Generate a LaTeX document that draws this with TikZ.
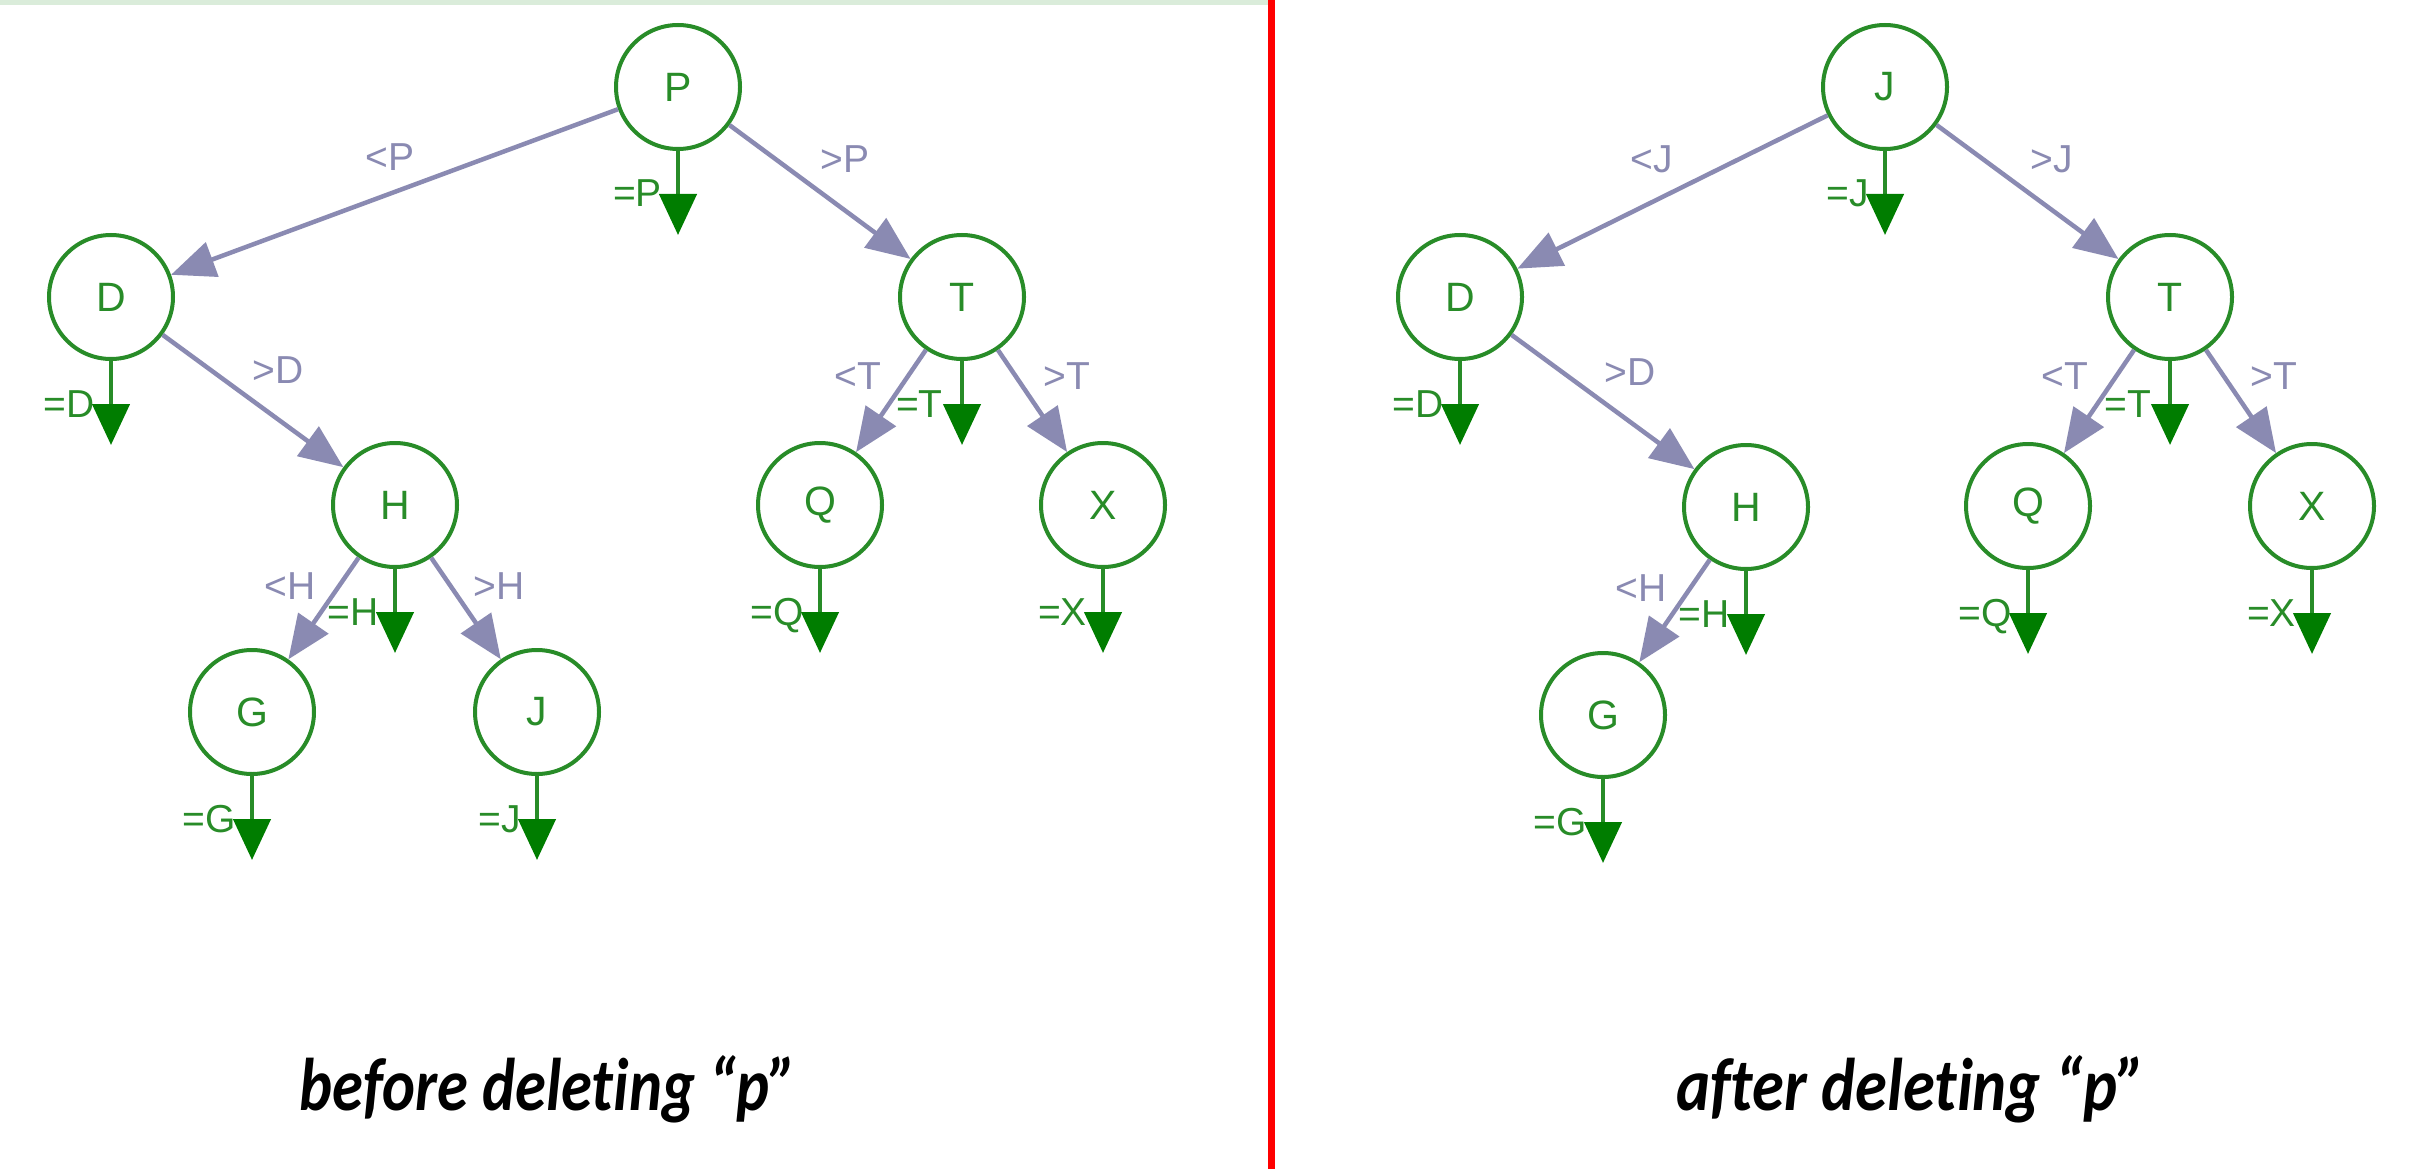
\documentclass[tikz,border=0pt]{standalone}
\usepackage{fontspec}
\setmainfont{Liberation Sans}
\newfontfamily\capfont[Ligatures=NoCommon]{Carlito}
\usetikzlibrary{arrows.meta}
\definecolor{ngreen}{RGB}{40,140,40}
\definecolor{egreen}{RGB}{0,125,0}
\definecolor{lav}{RGB}{138,138,178}
\definecolor{topgreen}{RGB}{218,236,218}
\definecolor{sepred}{RGB}{255,0,0}
\begin{document}
\begin{tikzpicture}[x=1pt,y=-1pt,
  tnode/.style={circle,draw=ngreen,line width=4pt,minimum size=124pt,inner sep=0pt,
    text=ngreen,font=\fontsize{41}{48}\selectfont},
  pedge/.style={draw=lav,line width=4.5pt,-{Triangle[length=44pt,width=36pt,color=lav]}},
  eqarrow/.style={draw=ngreen,line width=4.5pt,-{Triangle[length=41pt,width=37pt,color=egreen]}},
  plabel/.style={text=lav,inner sep=0pt,font=\fontsize{39}{47}\selectfont},
  elabel/.style={text=ngreen,inner sep=0pt,anchor=base east,font=\fontsize{39}{47}\selectfont},
  caption/.style={inner sep=0pt,anchor=base,text=black,font=\capfont\bfseries\itshape\fontsize{60}{70}\selectfont}]
\useasboundingbox (0,0) rectangle (2417,1169);
\fill[white] (0,0) rectangle (2417,1169);
\fill[topgreen] (0,0) rectangle (1268,5);
\fill[sepred] (1268,0) rectangle (1275,1169);

% ---------------- left tree (before) ----------------
\node[tnode] (lP) at (678,87) {P};
\node[tnode] (lD) at (111,297) {D};
\node[tnode] (lT) at (962,297) {T};
\node[tnode] (lH) at (395,505) {H};
\node[tnode] (lQ) at (820,505) {Q};
\node[tnode] (lX) at (1103,505) {X};
\node[tnode] (lG) at (252,712) {G};
\node[tnode] (lJ) at (537,712) {J};

\draw[pedge] (lP) -- (lD);
\draw[pedge] (lP) -- (lT);
\draw[pedge] (lD) -- (lH);
\draw[pedge] (lH) -- (lG);
\draw[pedge] (lH) -- (lJ);
\draw[pedge] (lT) -- (lQ);
\draw[pedge] (lT) -- (lX);

\node[plabel] (lPl) at (390,157) {<P};
\node[plabel] (lPr) at (845,159) {>P};
\node[plabel] (lDr) at (278,370) {>D};
\node[plabel] (lHl) at (290,586) {<H};
\node[plabel] (lHr) at (499,586) {>H};
\node[plabel] (lTl) at (858,376) {<T};
\node[plabel] (lTr) at (1067,376) {>T};

\coordinate (lPe) at (678,235);
\coordinate (lDe) at (111,445);
\coordinate (lTe) at (962,445);
\coordinate (lHe) at (395,653);
\coordinate (lQe) at (820,653);
\coordinate (lXe) at (1103,653);
\coordinate (lGe) at (252,860);
\coordinate (lJe) at (537,860);
\draw[eqarrow] (lP) -- (lPe);
\draw[eqarrow] (lD) -- (lDe);
\draw[eqarrow] (lT) -- (lTe);
\draw[eqarrow] (lH) -- (lHe);
\draw[eqarrow] (lQ) -- (lQe);
\draw[eqarrow] (lX) -- (lXe);
\draw[eqarrow] (lG) -- (lGe);
\draw[eqarrow] (lJ) -- (lJe);
\node[elabel] (lPq) at (662,207) {=P};
\node[elabel] (lDq) at (95,417) {=D};
\node[elabel] (lTq) at (943,417) {=T};
\node[elabel] (lHq) at (379,625) {=H};
\node[elabel] (lQq) at (804,625) {=Q};
\node[elabel] (lXq) at (1087,625) {=X};
\node[elabel] (lGq) at (236,832) {=G};
\node[elabel] (lJq) at (521,832) {=J};

% ---------------- right tree (after) ----------------
\node[tnode] (rJ) at (1885,87) {J};
\node[tnode] (rD) at (1460,297) {D};
\node[tnode] (rT) at (2170,297) {T};
\node[tnode] (rH) at (1746,507) {H};
\node[tnode] (rQ) at (2028,506) {Q};
\node[tnode] (rX) at (2312,506) {X};
\node[tnode] (rG) at (1603,715) {G};

\draw[pedge] (rJ) -- (rD);
\draw[pedge] (rJ) -- (rT);
\draw[pedge] (rD) -- (rH);
\draw[pedge] (rH) -- (rG);
\draw[pedge] (rT) -- (rQ);
\draw[pedge] (rT) -- (rX);

\node[plabel] (rJl) at (1652,159) {<J};
\node[plabel] (rJr) at (2052,159) {>J};
\node[plabel] (rDr) at (1630,372) {>D};
\node[plabel] (rHl) at (1641,588) {<H};
\node[plabel] (rTl) at (2065,376) {<T};
\node[plabel] (rTr) at (2274,376) {>T};

\coordinate (rJe) at (1885,235);
\coordinate (rDe) at (1460,445);
\coordinate (rTe) at (2170,445);
\coordinate (rHe) at (1746,655);
\coordinate (rQe) at (2028,654);
\coordinate (rXe) at (2312,654);
\coordinate (rGe) at (1603,863);
\draw[eqarrow] (rJ) -- (rJe);
\draw[eqarrow] (rD) -- (rDe);
\draw[eqarrow] (rT) -- (rTe);
\draw[eqarrow] (rH) -- (rHe);
\draw[eqarrow] (rQ) -- (rQe);
\draw[eqarrow] (rX) -- (rXe);
\draw[eqarrow] (rG) -- (rGe);
\node[elabel] (rJq) at (1869,207) {=J};
\node[elabel] (rDq) at (1444,417) {=D};
\node[elabel] (rTq) at (2151,417) {=T};
\node[elabel] (rHq) at (1730,627) {=H};
\node[elabel] (rQq) at (2012,626) {=Q};
\node[elabel] (rXq) at (2296,626) {=X};
\node[elabel] (rGq) at (1587,835) {=G};

% ---------------- captions ----------------
\node[caption] (capL) at (548,1110) {\resizebox{497pt}{55pt}{before deleting “p”}};
\node[caption] (capR) at (1911,1110) {\resizebox{469pt}{55pt}{after deleting “p”}};
\end{tikzpicture}
\end{document}
